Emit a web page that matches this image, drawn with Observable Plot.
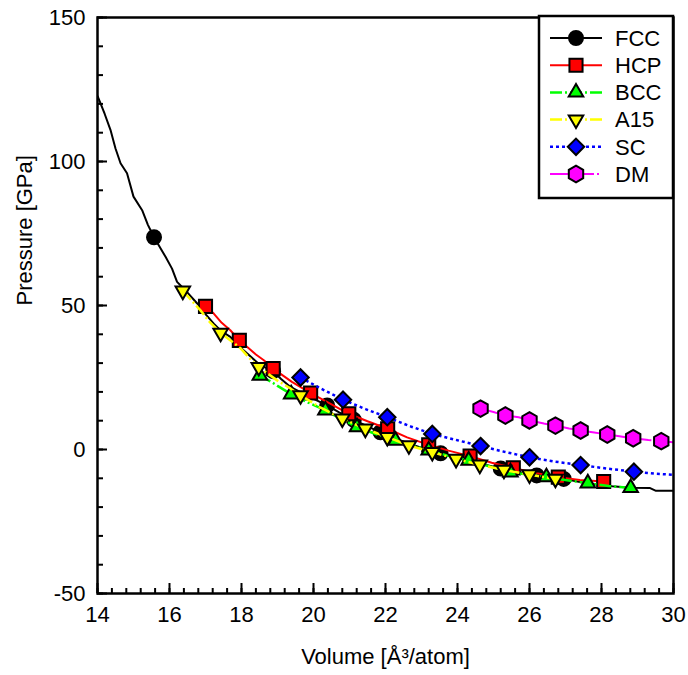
<!DOCTYPE html>
<html><head><meta charset="utf-8">
<script src="https://cdn.jsdelivr.net/npm/d3@7"></script>
<script src="https://cdn.jsdelivr.net/npm/@observablehq/plot@0.6"></script>
<style>
body{margin:0;background:#fff;}
#wrap{position:relative;width:688px;height:675px;}
#legend{position:absolute;left:0;top:0;pointer-events:none;}
</style>
</head><body><div id="wrap"></div>
<script>
// ---- data: [volume (Å^3/atom), pressure (GPa)] ----
const fccLine = [[14.00,122.8],[14.20,116.5],[14.36,111.0],[14.50,104.5],[14.64,99.4],[14.82,95.9],[15.00,87.8],[15.24,83.1],[15.40,78.0],[15.57,73.7],[15.89,66.9],[16.07,62.8],[16.21,58.2],[16.50,54.5],[16.77,50.7],[17.00,47.0],[17.23,43.7],[17.45,41.0],[17.69,39.1],[17.90,36.2],[18.16,33.3],[18.53,29.2],[18.88,27.2],[19.10,24.5],[19.36,21.7],[19.90,18.2],[20.38,15.3],[20.70,13.0],[21.12,10.3],[21.50,8.0],[21.86,6.0],[22.30,3.8],[22.70,1.8],[23.10,0.2],[23.53,-1.3],[24.00,-3.0],[24.40,-4.3],[24.80,-5.4],[25.20,-6.6],[25.70,-7.8],[26.20,-9.0],[26.95,-10.2],[27.40,-11.3],[27.80,-12.1],[28.30,-12.8],[28.80,-13.3],[29.35,-13.4],[29.50,-14.3],[30.00,-14.3]];
const fccMarks = [[15.57,73.7],[18.88,27.2],[20.38,15.3],[21.12,10.3],[21.86,6.0],[23.53,-1.3],[25.20,-6.6],[26.20,-9.0],[26.95,-10.2]];

const hcpLine = [[17.00,49.7],[17.23,47.2],[17.45,44.0],[17.69,41.4],[17.94,37.9],[18.16,35.6],[18.40,33.0],[18.62,31.0],[18.88,28.1],[19.40,23.5],[19.92,19.6],[20.45,16.0],[20.98,12.4],[21.50,9.8],[22.06,7.2],[22.60,4.2],[23.20,1.6],[23.75,-0.4],[24.35,-2.3],[24.95,-4.6],[25.55,-6.4],[26.20,-8.2],[26.80,-9.6],[27.40,-10.6],[28.06,-11.1]];
const hcpMarks = [[17.00,49.7],[17.94,37.9],[18.88,28.1],[19.92,19.6],[20.98,12.4],[22.06,7.2],[23.20,1.6],[24.35,-2.3],[25.55,-6.4],[26.80,-9.6],[28.06,-11.1]];

const bccLine = [[18.51,25.7],[18.81,23.6],[18.99,22.2],[19.38,19.2],[19.85,16.3],[20.33,13.6],[20.75,10.7],[21.21,7.8],[21.75,5.3],[22.28,3.1],[22.75,1.3],[23.20,-0.3],[23.75,-2.2],[24.31,-3.8],[24.90,-5.9],[25.47,-7.9],[26.00,-8.8],[26.47,-9.6],[27.00,-10.6],[27.62,-11.7],[28.20,-12.7],[28.81,-13.3]];
const bccMarks = [[18.51,25.7],[19.38,19.2],[20.33,13.6],[21.21,7.8],[22.28,3.1],[23.20,-0.3],[24.31,-3.8],[25.47,-7.9],[26.47,-9.6],[27.62,-11.7],[28.81,-13.3]];

const a15Line = [[16.37,55.1],[16.86,48.3],[17.10,44.5],[17.42,40.5],[17.97,35.2],[18.20,32.0],[18.48,28.6],[18.99,24.0],[19.36,21.2],[19.64,18.8],[20.20,14.5],[20.80,10.7],[21.44,7.2],[22.05,4.3],[22.65,1.4],[23.30,-0.9],[23.96,-3.3],[24.62,-5.3],[25.29,-7.1],[26.00,-8.7],[26.72,-10.2]];
const a15Marks = [[16.37,55.1],[17.42,40.5],[18.48,28.6],[19.64,18.8],[20.80,10.7],[21.44,7.2],[22.05,4.3],[22.65,1.4],[23.30,-0.9],[23.96,-3.3],[24.62,-5.3],[25.29,-7.1],[26.00,-8.7],[26.72,-10.2]];

const scLine = [[19.64,25.0],[20.20,21.2],[20.82,17.3],[21.45,14.0],[22.05,11.2],[22.70,8.0],[23.30,5.4],[24.00,3.2],[24.64,1.2],[25.30,-0.8],[26.00,-2.7],[26.70,-4.2],[27.42,-5.4],[28.20,-6.7],[28.90,-7.7],[29.50,-8.4],[30.00,-8.8]];
const scMarks = [[19.64,25.0],[20.82,17.3],[22.05,11.2],[23.30,5.4],[24.64,1.2],[26.00,-2.7],[27.42,-5.4],[28.90,-7.7]];

const dmLine = [[24.64,14.2],[25.00,13.0],[25.33,11.8],[25.70,11.2],[26.00,10.1],[26.40,9.0],[26.72,8.3],[27.10,7.3],[27.42,6.6],[27.80,5.9],[28.16,5.2],[28.50,4.6],[28.88,3.9],[29.30,3.3],[29.66,2.9],[30.00,2.5]];
const dmMarks = [[24.64,14.2],[25.33,11.8],[26.00,10.1],[26.72,8.3],[27.42,6.6],[28.16,5.2],[28.88,3.9],[29.66,2.9]];

const names = ["FCC","HCP","BCC","A15","SC","DM"];
const xTicks = [14,16,18,20,22,24,26,28,30];
const yTicks = [-50,0,50,100,150];
const xMinor = d3.range(0, 41).map(i => 14 + i * 0.4);
const yMinor = d3.range(-50, 151, 10);

const font = "'Liberation Sans', Arial, Helvetica, sans-serif";
const series = [
  {name: names[0], line: fccLine, marks: fccMarks, color: "#000000", symbol: "circle",   rotate: 0,   r: 7.0, dash: null,        sw: 2},
  {name: names[1], line: hcpLine, marks: hcpMarks, color: "#ff0000", symbol: "square",   rotate: 0,   r: 7.4, dash: null,        sw: 2},
  {name: names[2], line: bccLine, marks: bccMarks, color: "#00ff00", symbol: "triangle", rotate: 0,   r: 5.4, dash: "12,3,2,3",  sw: 2.5},
  {name: names[3], line: a15Line, marks: a15Marks, color: "#ffff00", symbol: "triangle", rotate: 180, r: 5.4, dash: "12,3,2,3",  sw: 2.5},
  {name: names[4], line: scLine,  marks: scMarks,  color: "#0000ff", symbol: "diamond2", rotate: 0,   r: 7.4, dash: "3,3",       sw: 2.5},
  {name: names[5], line: dmLine,  marks: dmMarks,  color: "#ff00ff", symbol: "hexagon",  rotate: 0,   r: 7.2, dash: "18,3,2,3",  sw: 2}
];

const marks = [
  Plot.axisX(xMinor, {anchor: "bottom", tickSize: -5, tickFormat: () => "", strokeWidth: 2}),
  Plot.axisX(xTicks, {anchor: "bottom", tickSize: -10, tickFormat: () => "", strokeWidth: 2}),
  Plot.axisX(xTicks, {anchor: "bottom", tickSize: 0, tickPadding: 13, tickFormat: d => String(d), fontSize: 22, fill: "black"}),
  Plot.axisY(yMinor, {anchor: "left", tickSize: -6, tickFormat: () => "", strokeWidth: 2}),
  Plot.axisY(yTicks, {anchor: "left", tickSize: -10, tickFormat: () => "", strokeWidth: 2}),
  Plot.axisY(yTicks, {anchor: "left", tickSize: 0, tickPadding: 12, tickFormat: d => String(d), fontSize: 22, fill: "black"}),
  Plot.text(["Volume [Å³/atom]"], {text: d => d, frameAnchor: "bottom", dy: 70, fontSize: 22, fill: "black"}),
  Plot.text(["Pressure [GPa]"], {text: d => d, frameAnchor: "left", dx: -73, rotate: -90, fontSize: 22, fill: "black"})
];
for (const s of series) {
  marks.push(Plot.line(s.line, {x: d => d[0], y: d => d[1], stroke: s.color, strokeWidth: s.sw, strokeDasharray: s.dash, strokeLinecap: "butt", strokeLinejoin: "miter", clip: true}));
  marks.push(Plot.dot(s.marks, {x: d => d[0], y: d => d[1], symbol: s.symbol, r: s.r, rotate: s.rotate, fill: s.color, stroke: "black", strokeWidth: 2}));
}
marks.push(Plot.frame({stroke: "black", strokeWidth: 2.5}));

const chart = Plot.plot({
  width: 688, height: 675,
  marginLeft: 97, marginRight: 15, marginTop: 17, marginBottom: 82,
  x: {domain: [14, 30], label: null},
  y: {domain: [-50, 150], label: null},
  style: {fontFamily: font, fontSize: "22px", background: "white", color: "black", overflow: "visible"},
  marks
});
const wrap = document.getElementById("wrap");
wrap.appendChild(chart);

// ---- legend overlay ----
const sqrt4_3 = 2 / Math.sqrt(3);
const symbolHexagon = {
  draw(context, size) {
    const rx = Math.sqrt(size / Math.PI), ry = rx * sqrt4_3, hy = ry / 2;
    context.moveTo(0, ry); context.lineTo(rx, hy); context.lineTo(rx, -hy);
    context.lineTo(0, -ry); context.lineTo(-rx, -hy); context.lineTo(-rx, hy); context.closePath();
  }
};
const symMap = {circle: d3.symbolCircle, square: d3.symbolSquare, triangle: d3.symbolTriangle, diamond2: d3.symbolDiamond2, hexagon: symbolHexagon};
const lg = d3.select(wrap).append("svg").attr("id", "legend").attr("width", 688).attr("height", 675);
const lx = 539, ly = 16, lw = 134, lh = 182;
lg.append("rect").attr("x", lx).attr("y", ly).attr("width", lw).attr("height", lh)
  .attr("fill", "white").attr("stroke", "black").attr("stroke-width", 2.5);
series.forEach((s, i) => {
  const y = 38 + i * 27.2;
  lg.append("line").attr("x1", 550).attr("x2", 602).attr("y1", y).attr("y2", y)
    .attr("stroke", s.color).attr("stroke-width", s.sw).attr("stroke-dasharray", s.dash);
  lg.append("path").attr("d", d3.symbol(symMap[s.symbol], Math.PI * s.r * s.r)())
    .attr("transform", `translate(576,${y}) rotate(${s.rotate})`)
    .attr("fill", s.color).attr("stroke", "black").attr("stroke-width", 2);
  lg.append("text").attr("x", 615).attr("y", y).attr("dy", "0.35em")
    .attr("font-family", font).attr("font-size", 22).attr("fill", "black").text(s.name);
});
</script>
</body></html>
